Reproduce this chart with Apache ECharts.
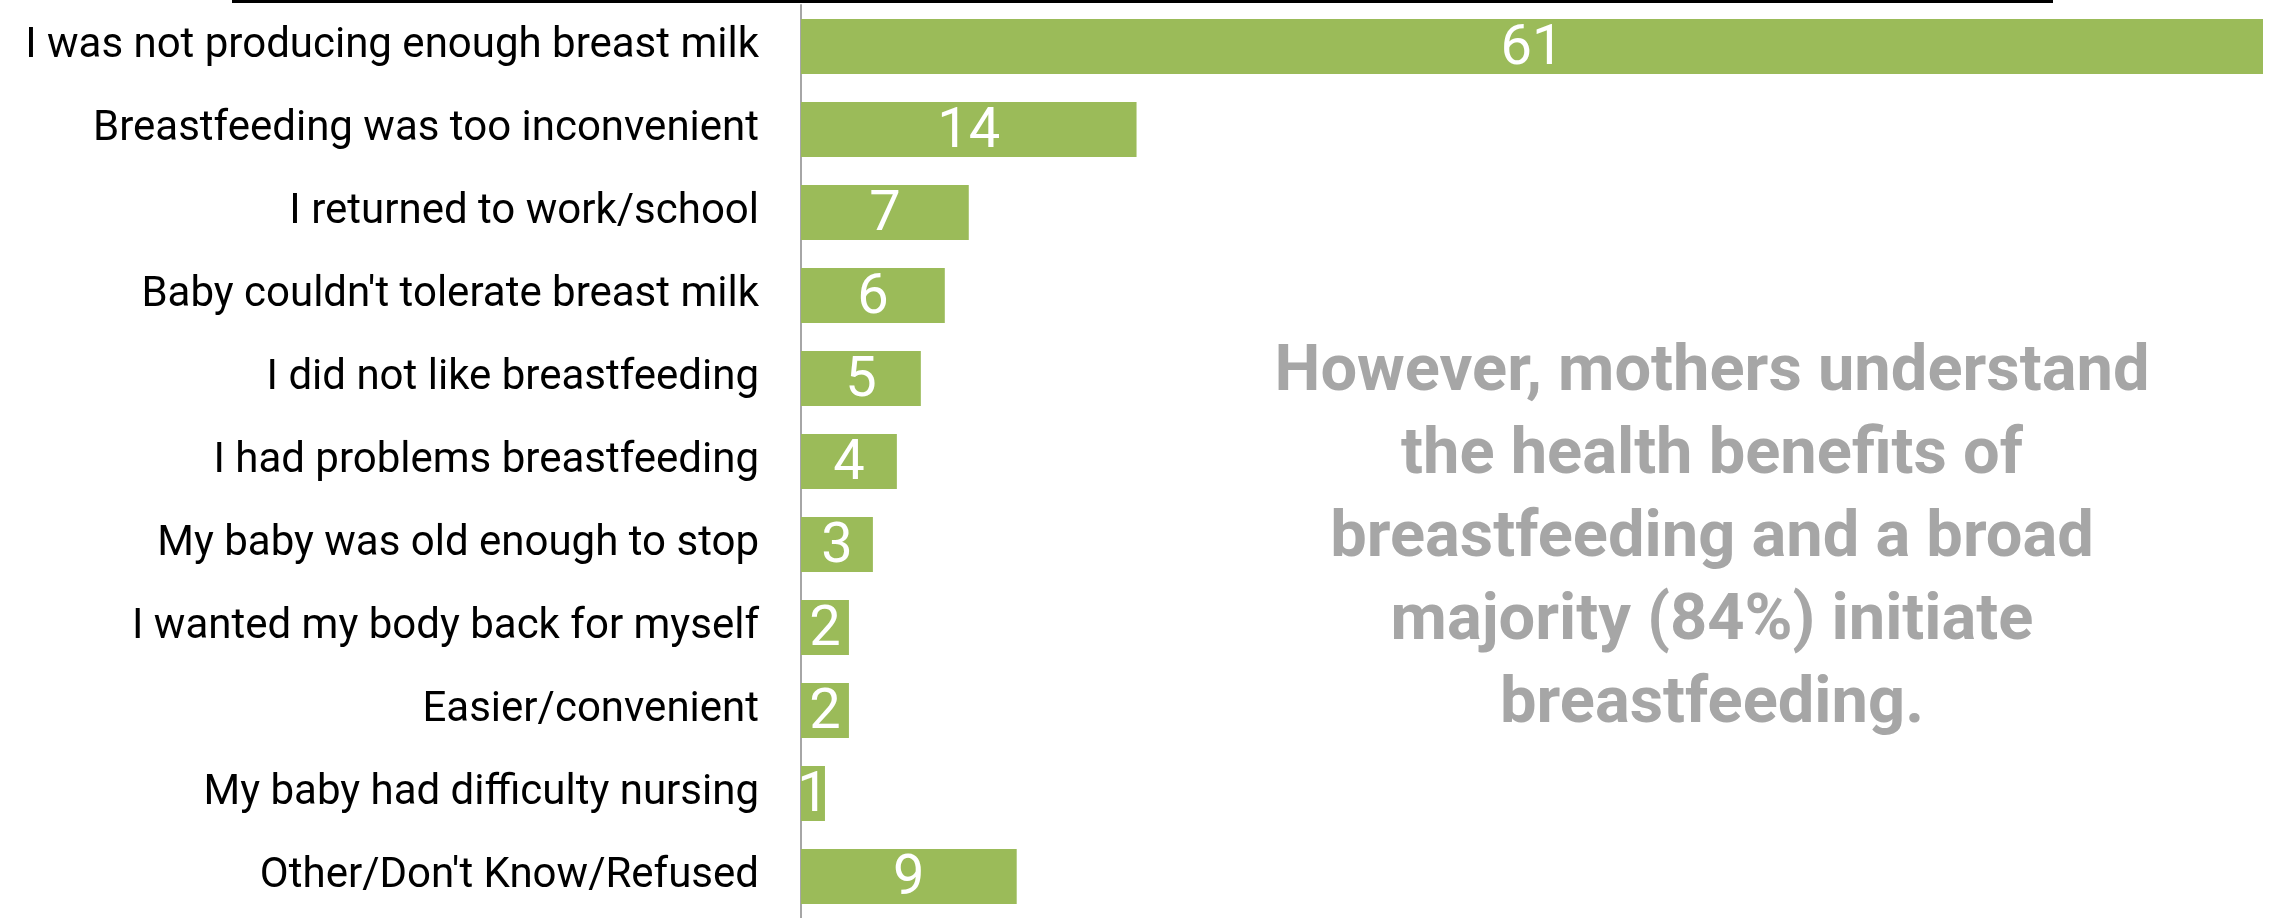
<!DOCTYPE html>
<html>
<head>
<meta charset="utf-8">
<script src="https://cdn.jsdelivr.net/npm/echarts@6/dist/echarts.min.js"></script>
<style>
  html, body { margin: 0; padding: 0; background: #fff; }
  #chart { width: 2275px; height: 918px; }
</style>
</head>
<body>
<div id="chart"></div>
<script>
// reasons for stopping breastfeeding (percent)
const reasons = [
  'I was not producing enough breast milk',
  'Breastfeeding was too inconvenient',
  'I returned to work/school',
  "Baby couldn't tolerate breast milk",
  'I did not like breastfeeding',
  'I had problems breastfeeding',
  'My baby was old enough to stop',
  'I wanted my body back for myself',
  'Easier/convenient',
  'My baby had difficulty nursing',
  "Other/Don't Know/Refused"
];
const values = [61, 14, 7, 6, 5, 4, 3, 2, 2, 1, 9];

const noteLines = [
  'However, mothers understand',
  'the health benefits of',
  'breastfeeding and a broad',
  'majority (84%) initiate',
  'breastfeeding.'
];

const chart = echarts.init(document.getElementById('chart'));

chart.setOption({
  animation: false,
  grid: { left: 801, right: 12, top: 5, height: 917 },
  xAxis: { type: 'value', min: 0, max: 61, show: false },
  yAxis: {
    type: 'category',
    data: reasons,
    inverse: true,
    axisLine: { lineStyle: { color: '#a6a6a6', width: 2 } },
    axisTick: { length: 12, lineStyle: { color: '#a6a6a6', width: 2 } },
    axisLabel: {
      margin: 42,
      color: '#000',
      fontSize: 42,
      fontFamily: 'Roboto',
      padding: [8, 0, 0, 0]
    }
  },
  series: [{
    type: 'bar',
    data: values,
    barCategoryGap: '34%',
    itemStyle: { color: '#9bbb59' },
    label: {
      show: true,
      position: 'inside',
      offset: [0, 3],
      color: '#fff',
      fontSize: 56,
      fontFamily: 'Roboto'
    }
  }],
  graphic: [
    {
      type: 'rect',
      shape: { x: 232, y: 0, width: 1821, height: 3 },
      style: { fill: '#000' }
    },
    {
      type: 'text',
      x: 1712,
      y: 332,
      style: {
        text: noteLines.join('\n'),
        fill: '#a6a6a6',
        font: 'bold 65px Roboto',
        lineHeight: 83,
        align: 'center',
        verticalAlign: 'top'
      }
    }
  ]
});
</script>
</body>
</html>
